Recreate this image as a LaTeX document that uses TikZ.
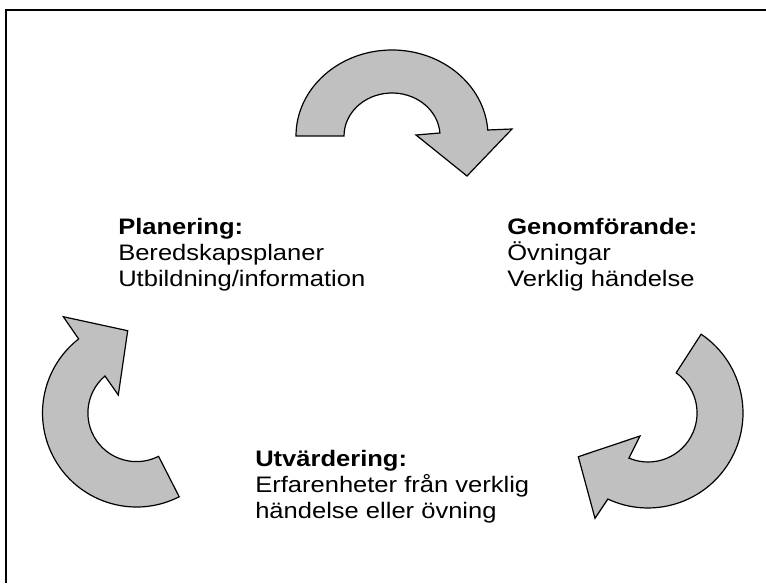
\documentclass[tikz,border=0pt]{standalone}
\usepackage{fontspec}
\usepackage{tikz}
\usetikzlibrary{positioning}
\newfontfamily\lblfont[FakeStretch=1.14]{Liberation Sans}
\definecolor{arrowgray}{RGB}{192, 192, 192}

\tikzset{
  cyclearrow/.style={fill=arrowgray, draw=black, line width=0.9pt, line join=miter},
  phaselabel/.style={font=\lblfont\fontsize{16.8}{19.3}\selectfont, align=left, anchor=base west, inner sep=0pt}
}

\begin{document}
\begin{tikzpicture}[x=0.75pt, y=0.75pt]
  \useasboundingbox (0,0) rectangle (766,583);

  % ram (bara övre och vänstra kanten syns)
  \draw[line width=1.5pt] (766,573) -- (6,573) -- (6,0);

  % övre pil
  \draw[cyclearrow] (296,447)
    arc[start angle=180, end angle=4, x radius=96, y radius=86]
    -- (512,454) -- (467,407) -- (416,448) -- (439.9,450)
    arc[start angle=4, end angle=180, x radius=48, y radius=43] -- cycle;

  % höger pil
  \draw[cyclearrow] (701.1,248.8)
    arc[start angle=56, end angle=-115, radius=95]
    -- (595,64.7) -- (578.3,126.3) -- (640,147) -- (628.9,124.9)
    arc[start angle=-113, end angle=55, radius=49] -- cycle;

  % vänster pil
  \draw[cyclearrow] (179.2,86.25)
    arc[start angle=-63, end angle=-232, radius=94]
    -- (63.3,266.3) -- (127.7,252.3) -- (118.3,188) -- (105.0,207.0)
    arc[start angle=130.4, end angle=297, radius=48.6] -- cycle;

  % faser (ankare = sista radens baslinje)
  \node[phaselabel] (plan) at (118,297)
    {\textbf{Planering:}\\Beredskapsplaner\\Utbildning/information};
  \node[phaselabel] (genom) at (507,297)
    {\textbf{Genomförande:}\\Övningar\\Verklig händelse};
  \node[phaselabel] (utv) at (255,65)
    {\textbf{Utvärdering:}\\Erfarenheter från verklig\\händelse eller övning};
\end{tikzpicture}
\end{document}
